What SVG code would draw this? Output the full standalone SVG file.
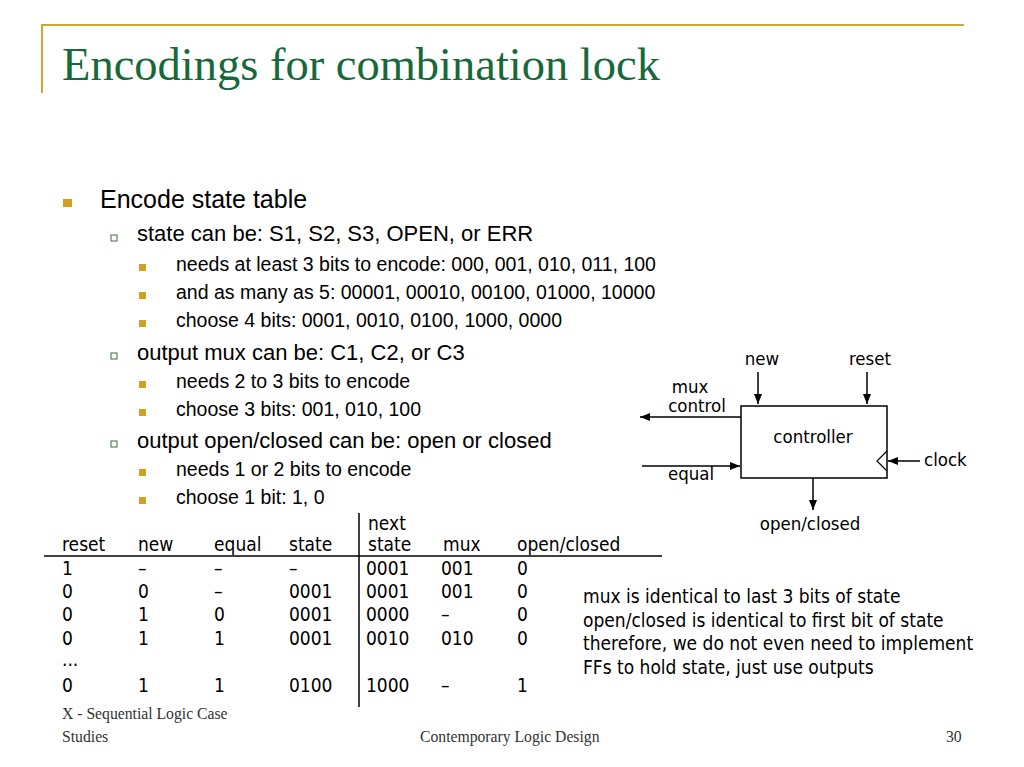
<svg xmlns="http://www.w3.org/2000/svg" width="1024" height="767" viewBox="0 0 1024 767">
<defs>
<style>
.title{font-family:"Liberation Serif",serif;font-size:46.5px;fill:#17693B}
.l1{font-family:"Liberation Sans",Arial,sans-serif;font-size:25px;fill:#000}
.l2{font-family:"Liberation Sans",Arial,sans-serif;font-size:22px;fill:#000}
.l3{font-family:"Liberation Sans",Arial,sans-serif;font-size:19.5px;fill:#000}
.t{font-family:"DejaVu Sans Condensed","DejaVu Sans",sans-serif;font-stretch:condensed;font-size:19px;fill:#000}
.d{font-family:"DejaVu Sans Condensed","DejaVu Sans",sans-serif;font-stretch:condensed;font-size:18.5px;fill:#000}
.n{font-family:"DejaVu Sans Condensed","DejaVu Sans",sans-serif;font-stretch:condensed;font-size:19px;fill:#000}
.foot{font-family:"Liberation Serif",serif;font-size:15.7px;fill:#333}
.gold{fill:#D2A020}
.box2{fill:#fff;stroke:#3C6E3C;stroke-width:1}
.wire{stroke:#000;stroke-width:1.5;fill:none}
</style>
<marker id="ah" viewBox="0 0 10 10" refX="10" refY="5" markerWidth="10" markerHeight="10" markerUnits="userSpaceOnUse" orient="auto">
<path d="M0,1 L10,5 L0,9 z" fill="#000"/>
</marker>
</defs>
<rect width="1024" height="767" fill="#fff"/>

<g id="frame">
<line x1="42" y1="25" x2="964" y2="25" stroke="#D4A72C" stroke-width="2"/>
<line x1="42" y1="24" x2="42" y2="93" stroke="#D4A72C" stroke-width="2"/>
</g>

<text class="title" x="62" y="80">Encodings for combination lock</text>

<g id="bullets">
<rect class="gold" x="63" y="199" width="9" height="8"/>
<text class="l1" x="100" y="208">Encode state table</text>

<rect class="box2" x="111" y="235" width="6" height="6"/>
<text class="l2" x="137" y="241">state can be: S1, S2, S3, OPEN, or ERR</text>
<rect class="gold" x="139" y="264" width="7" height="7"/>
<text class="l3" x="176" y="271">needs at least 3 bits to encode: 000, 001, 010, 011, 100</text>
<rect class="gold" x="139" y="292" width="7" height="7"/>
<text class="l3" x="176" y="299">and as many as 5: 00001, 00010, 00100, 01000, 10000</text>
<rect class="gold" x="139" y="320" width="7" height="7"/>
<text class="l3" x="176" y="327">choose 4 bits: 0001, 0010, 0100, 1000, 0000</text>

<rect class="box2" x="111" y="353" width="6" height="6"/>
<text class="l2" x="137" y="360">output mux can be: C1, C2, or C3</text>
<rect class="gold" x="139" y="381" width="7" height="7"/>
<text class="l3" x="176" y="388">needs 2 to 3 bits to encode</text>
<rect class="gold" x="139" y="409" width="7" height="7"/>
<text class="l3" x="176" y="416">choose 3 bits: 001, 010, 100</text>

<rect class="box2" x="111" y="441" width="6" height="6"/>
<text class="l2" x="137" y="448">output open/closed can be: open or closed</text>
<rect class="gold" x="139" y="469" width="7" height="7"/>
<text class="l3" x="176" y="476">needs 1 or 2 bits to encode</text>
<rect class="gold" x="139" y="497" width="7" height="7"/>
<text class="l3" x="176" y="504">choose 1 bit: 1, 0</text>
</g>

<g id="table">
<line x1="44" y1="556" x2="662" y2="556" stroke="#000" stroke-width="1.5"/>
<line x1="359" y1="513" x2="359" y2="707" stroke="#000" stroke-width="1.5"/>
<text class="t" x="368" y="530">next</text>
<text class="t" x="62" y="551">reset</text>
<text class="t" x="138" y="551">new</text>
<text class="t" x="214" y="551">equal</text>
<text class="t" x="289" y="551">state</text>
<text class="t" x="368" y="551">state</text>
<text class="t" x="443" y="551">mux</text>
<text class="t" x="517" y="551">open/closed</text>

<text class="t" x="62" y="575">1</text><text class="t" x="138" y="575">–</text><text class="t" x="214" y="575">–</text><text class="t" x="289" y="575">–</text><text class="t" x="366" y="575">0001</text><text class="t" x="441" y="575">001</text><text class="t" x="517" y="575">0</text>
<text class="t" x="62" y="598">0</text><text class="t" x="138" y="598">0</text><text class="t" x="214" y="598">–</text><text class="t" x="289" y="598">0001</text><text class="t" x="366" y="598">0001</text><text class="t" x="441" y="598">001</text><text class="t" x="517" y="598">0</text>
<text class="t" x="62" y="621">0</text><text class="t" x="138" y="621">1</text><text class="t" x="214" y="621">0</text><text class="t" x="289" y="621">0001</text><text class="t" x="366" y="621">0000</text><text class="t" x="441" y="621">–</text><text class="t" x="517" y="621">0</text>
<text class="t" x="62" y="645">0</text><text class="t" x="138" y="645">1</text><text class="t" x="214" y="645">1</text><text class="t" x="289" y="645">0001</text><text class="t" x="366" y="645">0010</text><text class="t" x="441" y="645">010</text><text class="t" x="517" y="645">0</text>
<text class="t" x="62" y="666">...</text>
<text class="t" x="62" y="692">0</text><text class="t" x="138" y="692">1</text><text class="t" x="214" y="692">1</text><text class="t" x="289" y="692">0100</text><text class="t" x="366" y="692">1000</text><text class="t" x="441" y="692">–</text><text class="t" x="517" y="692">1</text>
</g>

<g id="controller">
<rect x="741" y="406" width="146" height="72" fill="#fff" stroke="#000" stroke-width="1.5"/>
<polyline points="887,451 877,461 887,471" fill="none" stroke="#000" stroke-width="1.2"/>
<text class="d" x="813" y="443" text-anchor="middle">controller</text>
</g>

<g id="labels">
<text class="d" x="762" y="365" text-anchor="middle">new</text>
<text class="d" x="870" y="365" text-anchor="middle">reset</text>
<text class="d" x="690" y="393" text-anchor="middle">mux</text>
<text class="d" x="697" y="412" text-anchor="middle">control</text>
<text class="d" x="668" y="480">equal</text>
<text class="d" x="924" y="466">clock</text>
<text class="d" x="810" y="530" text-anchor="middle">open/closed</text>
</g>

<g id="connectors">
<line class="wire" x1="758" y1="372" x2="758" y2="404" marker-end="url(#ah)"/>
<line class="wire" x1="867" y1="372" x2="867" y2="404" marker-end="url(#ah)"/>
<line class="wire" x1="741" y1="417" x2="640" y2="417" marker-end="url(#ah)"/>
<line class="wire" x1="642" y1="466" x2="740" y2="466" marker-end="url(#ah)"/>
<line class="wire" x1="920" y1="461" x2="888" y2="461" marker-end="url(#ah)"/>
<line class="wire" x1="813" y1="478" x2="813" y2="510" marker-end="url(#ah)"/>
</g>

<g id="note">
<text class="n" x="583" y="603">mux is identical to last 3 bits of state</text>
<text class="n" x="583" y="627">open/closed is identical to first bit of state</text>
<text class="n" x="583" y="650">therefore, we do not even need to implement</text>
<text class="n" x="583" y="674">FFs to hold state, just use outputs</text>
</g>

<g id="footer">
<text class="foot" x="62" y="719">X - Sequential Logic Case</text>
<text class="foot" x="62" y="742">Studies</text>
<text class="foot" x="420" y="742">Contemporary Logic Design</text>
<text class="foot" x="946" y="742">30</text>
</g>
</svg>
